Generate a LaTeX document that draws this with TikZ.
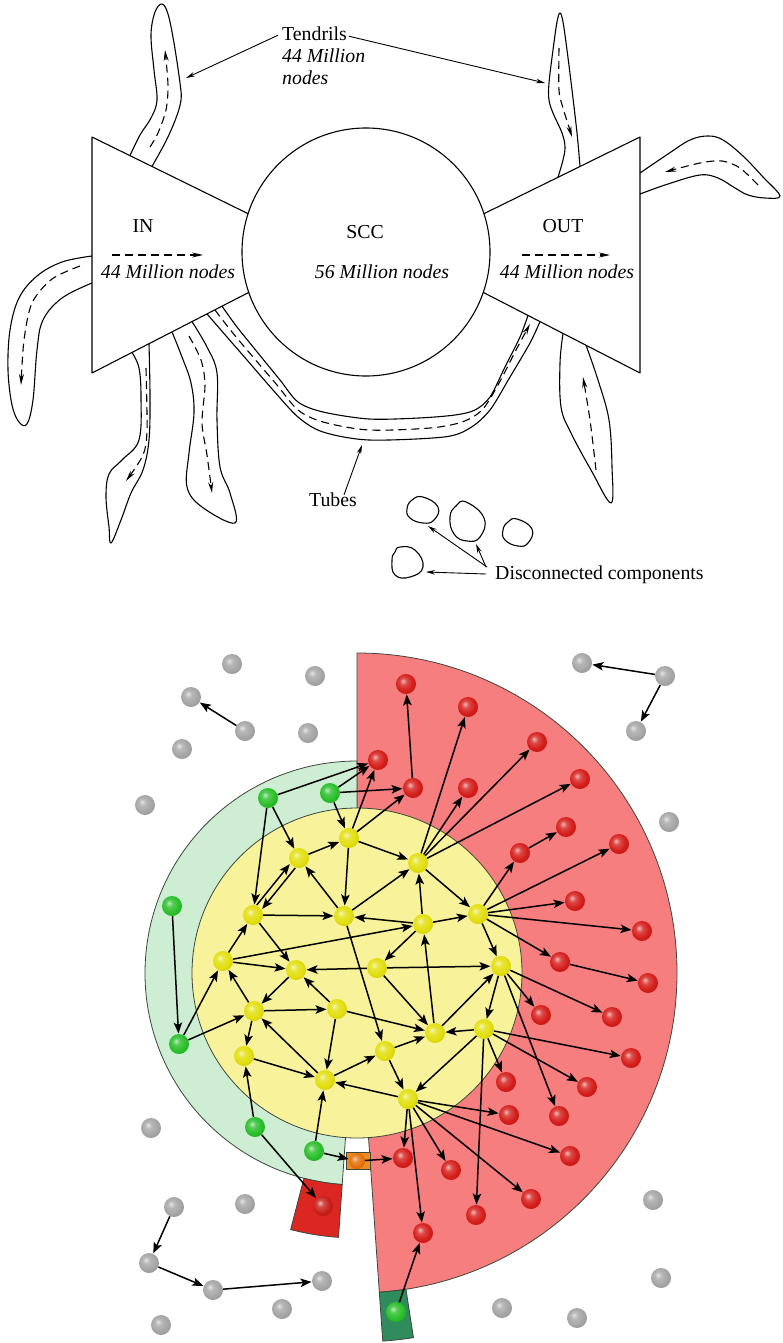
\documentclass[tikz,border=0pt]{standalone}
\usepackage{fontspec}
\setmainfont{Liberation Serif}
\usetikzlibrary{arrows.meta,calc}
\definecolor{redreg}{RGB}{246,126,126}
\definecolor{greenreg}{RGB}{205,238,210}
\definecolor{yellowreg}{RGB}{248,243,155}
\definecolor{regline}{RGB}{60,70,60}
\definecolor{redbox}{RGB}{220,38,34}
\definecolor{greenbox}{RGB}{48,140,92}
\definecolor{orangebox}{RGB}{238,140,30}
\definecolor{ballY}{RGB}{226,222,12}
\definecolor{ballR}{RGB}{212,28,24}
\definecolor{ballG}{RGB}{40,190,40}
\definecolor{ballK}{RGB}{165,165,165}
\definecolor{ballO}{RGB}{228,112,10}
\definecolor{ballRB}{RGB}{200,30,25}
\colorlet{mb}{ballY}
\pgfdeclareradialshading[mb]{mball}{\pgfqpoint{-8bp}{8bp}}{color(0bp)=(mb!30!white); color(9bp)=(mb!80!white); color(22bp)=(mb); color(38bp)=(mb!85!black); color(50bp)=(mb!65!black)}
\begin{document}
\begin{tikzpicture}[x=1pt,y=-1pt,
  outl/.style={line width=1.1pt,black,line join=round},
  dharr/.style={line width=1.1pt,dash pattern=on 8pt off 5pt,-{Stealth[length=11pt,width=5pt]}},
  tharr/.style={line width=0.9pt,-{Stealth[length=9pt,width=4.5pt]}},
  lbl/.style={font=\fontsize{19.8}{23}\selectfont,inner sep=0pt},
  ilbl/.style={font=\fontsize{19.8}{23}\selectfont\itshape,inner sep=0pt},
  ball/.style={circle,minimum size=20pt,inner sep=0pt},
  yb/.style={ball,/utils/exec={\colorlet{mb}{ballY}},shading=mball},
  rb/.style={ball,/utils/exec={\colorlet{mb}{ballR}},shading=mball},
  gb/.style={ball,/utils/exec={\colorlet{mb}{ballG}},shading=mball},
  kb/.style={ball,/utils/exec={\colorlet{mb}{ballK}},shading=mball},
  e/.style={line width=1.5pt,-{Stealth[length=11pt,width=8.5pt,inset=2.5pt]},shorten >=0.3pt},
  reg/.style={draw=regline,line width=0.8pt}]
\useasboundingbox (0,0) rectangle (783,1343);
% ================= TOP DIAGRAM =================
\draw[outl] (366,252) circle[radius=124];
\draw[outl] (248.1,213.7) -- (92,137) -- (92,373) -- (248.8,292.4);
\draw[outl] (483.9,213.7) -- (640,137) -- (640,373) -- (483.2,292.4);
% tendrils
\draw[outl] plot[smooth,tension=0.6] coordinates {(130,155.6) (140,135) (151,118) (157,100) (154,70) (151,35) (155,12) (162,4) (168,14) (174,43) (180,83) (181,100) (176,118) (166,141) (152,166.4)};
\draw[dharr] plot[smooth] coordinates {(150,147) (158,133) (166,110) (168,85) (165,50)};
\draw[outl] plot[smooth,tension=0.6] coordinates {(558,177.2) (563,160) (565,147) (562,133) (553,113) (549,100) (549,83) (553,50) (557,22) (560,13) (563,22) (567,50) (572,90) (577,133) (580,166.4)};
\draw[dharr] plot[smooth] coordinates {(559,48) (559,90) (563,108) (568,124) (572,137)};
\draw[outl] plot[smooth,tension=0.6] coordinates {(640,173) (668,154) (690,140) (708,136) (723,140) (743,156) (763,177) (780,196) (765,198) (748,195) (735,188) (718,178) (700,175) (668,184) (640,194)};
\draw[dharr] plot[smooth] coordinates {(758,185) (740,168) (722,161) (700,163) (665,172)};
\draw[outl] plot[smooth,tension=0.6] coordinates {(92,256) (62,262) (37,276) (19,298) (10,330) (8,370) (12,405) (19,422) (27,424) (33,400) (37,350) (43,320) (62,298) (92,283)};
\draw[dharr] plot[smooth] coordinates {(80,266) (52,279) (32,303) (24,340) (21,385)};
\draw[outl] plot[smooth,tension=0.6] coordinates {(132,352.4) (139,368) (141,397) (139,440) (122,460) (109,474) (106,497) (109,527) (111,543) (121,520) (131,493) (143,470) (149,440) (150,397) (149,343.7)};
\draw[dharr] plot[smooth] coordinates {(146,368) (147,430) (143,455) (126,481)};
\draw[outl] plot[smooth,tension=0.6] coordinates {(172,331.9) (182,357) (191,383) (194,413) (189,453) (187,487) (202,507) (235,523) (230,493) (220,467) (217,420) (217,373) (207,347) (192,321.6)};
\draw[dharr] plot[smooth] coordinates {(189,336) (201,360) (205,385) (202,423) (207,455) (212,493)};
\draw[outl] plot[smooth,tension=0.6] coordinates {(563,333.4) (560,363) (561,407) (571,433) (591,470) (611,503) (612,467) (609,420) (598,380) (586,345.2)};
\draw[dharr] plot[smooth] coordinates {(596,470) (590,420) (583,377)};
% tube
\draw[outl] plot[smooth,tension=0.5] coordinates {(222,306.2) (237,327) (258,353) (280,380) (298,402) (323,412) (369,419) (419,418) (455,415) (475,410) (490,397) (505,367) (520,337) (528,315.4)};
\draw[outl] plot[smooth,tension=0.5] coordinates {(207,313.9) (227,337) (247,360) (273,390) (298,417) (323,432) (369,440) (444,437) (470,428) (490,410) (510,377) (530,343) (540,321.6)};
\draw[dharr] plot[smooth,tension=0.5] coordinates {(215,310) (232,332) (253,357) (277,385) (298,410) (323,422) (369,430) (430,428) (462,422) (482,410) (498,385) (515,352) (530,324)};
% disconnected blobs
\draw[outl] plot[smooth cycle,tension=0.8] coordinates {(423,497) (438,507) (434,520) (423,523) (410,518) (407,509) (412,500)};
\draw[outl] plot[smooth cycle,tension=0.8] coordinates {(466,502) (484,518) (480,537) (467,541) (454,534) (450,517) (456,506)};
\draw[outl] plot[smooth cycle,tension=0.8] coordinates {(517,519) (532,529) (528,543) (518,546) (505,540) (503,530) (508,522)};
\draw[outl] plot[smooth cycle,tension=0.8] coordinates {(400,547) (415,550) (423,567) (410,577) (395,575) (392,560) (395,552)};
% labels
\node[lbl,anchor=base] (inl) at (143,233) {IN};
\node[ilbl,anchor=base] (inn) at (168,278) {44 Million nodes};
\node[lbl,anchor=base] (sccl) at (365,238) {SCC};
\node[ilbl,anchor=base] (sccn) at (382,278) {56 Million nodes};
\node[lbl,anchor=base] (outl) at (563,233) {OUT};
\node[ilbl,anchor=base] (outn) at (567,278) {44 Million nodes};
\draw[dharr] (112,255) -- (203,255);
\draw[dharr] (522,255) -- (610,255);
\node[lbl,anchor=base west] (tendr) at (282,41) {Tendrils};
\node[ilbl,anchor=base west] (tendr2) at (282,63) {44 Million};
\node[ilbl,anchor=base west] (tendr3) at (282,85) {nodes};
\coordinate (tipL) at (186,78);
\coordinate (tipR) at (545,83);
\draw[tharr] ([xshift=-4pt,yshift=-1pt]tendr.west) -- (tipL);
\draw[tharr] ([xshift=2pt,yshift=-2pt]tendr.east) -- (tipR);
\node[lbl] (tubes) at (333,500) {Tubes};
\coordinate (tubeTip) at (362,445);
\draw[tharr] ([xshift=11pt,yshift=-2pt]tubes.north) -- (tubeTip);
\node[lbl,anchor=west] (disc) at (495,575) {Disconnected components};
\coordinate (b1tip) at (428,526);
\coordinate (b2tip) at (476,544);
\coordinate (b4tip) at (426,572);
\draw[tharr] ([xshift=-8pt,yshift=8pt]disc.west) -- (b1tip);
\draw[tharr] ([xshift=-9pt,yshift=8pt]disc.west) -- (b2tip);
\draw[tharr] ([xshift=-9pt,yshift=1pt]disc.west) -- (b4tip);
% ================= BOTTOM DIAGRAM =================
\coordinate (C) at (357,973);
\filldraw[reg,fill=redreg] (C) -- ($(C)+(-90:320)$) arc[start angle=-90,end angle=86,radius=320] -- cycle;
\filldraw[reg,fill=greenreg] (C) -- ($(C)+(94:212)$) arc[start angle=94,end angle=270,radius=212] -- cycle;
\filldraw[reg,fill=yellowreg] (C) circle[radius=165];
\filldraw[reg,fill=redbox] ($(C)+(94:212)$) arc[start angle=94,end angle=104.5,radius=212] -- ($(C)+(104.5:265)$) arc[start angle=104.5,end angle=94,radius=265] -- cycle;
\filldraw[reg,fill=greenbox] ($(C)+(81.2:320)$) arc[start angle=81.2,end angle=86,radius=320] -- ($(C)+(86:369)$) arc[start angle=86,end angle=81.2,radius=369] -- cycle;
\filldraw[reg,fill=orangebox] (346,1152) rectangle (370,1169);
% gray nodes
\node[kb] (k1) at (232,664) {};
\node[kb] (k2) at (315,676) {};
\node[kb] (k3) at (191,697) {};
\node[kb] (k4) at (245,731) {};
\node[kb] (k5) at (308,733) {};
\node[kb] (k6) at (182,749) {};
\node[kb] (k7) at (145,805) {};
\node[kb] (k8) at (582,663) {};
\node[kb] (k9) at (665,676) {};
\node[kb] (k10) at (636,731) {};
\node[kb] (k11) at (669,822) {};
\node[kb] (k12) at (151,1128) {};
\node[kb] (k13) at (174,1207) {};
\node[kb] (k14) at (245,1204) {};
\node[kb] (k15) at (149,1263) {};
\node[kb] (k16) at (213,1290) {};
\node[kb] (k17) at (322,1281) {};
\node[kb] (k18) at (282,1309) {};
\node[kb] (k19) at (161,1325) {};
\node[kb] (k20) at (653,1200) {};
\node[kb] (k21) at (661,1278) {};
\node[kb] (k22) at (502,1308) {};
\node[kb] (k23) at (577,1318) {};
% yellow
\node[yb] (Y1) at (349,838) {};
\node[yb] (Y2) at (299,858) {};
\node[yb] (Y3) at (418,863) {};
\node[yb] (Y4) at (253,915) {};
\node[yb] (Y5) at (344,916) {};
\node[yb] (Y6) at (423,924) {};
\node[yb] (Y7) at (478,914) {};
\node[yb] (Y8) at (223,961) {};
\node[yb] (Y9) at (296,970) {};
\node[yb] (Y10) at (377,968) {};
\node[yb] (Y11) at (501,966) {};
\node[yb] (Y12) at (254,1011) {};
\node[yb] (Y13) at (337,1009) {};
\node[yb] (Y14) at (435,1033) {};
\node[yb] (Y15) at (484,1029) {};
\node[yb] (Y16) at (244,1056) {};
\node[yb] (Y17) at (385,1051) {};
\node[yb] (Y18) at (325,1080) {};
\node[yb] (Y19) at (408,1099) {};
% red
\node[rb] (R1) at (406,684) {};
\node[rb] (R2) at (378,760) {};
\node[rb] (R3) at (413,788) {};
\node[rb] (R4) at (468,707) {};
\node[rb] (R5) at (537,742) {};
\node[rb] (R6) at (580,779) {};
\node[rb] (R7) at (468,788) {};
\node[rb] (R8) at (566,827) {};
\node[rb] (R9) at (520,853) {};
\node[rb] (R10) at (619,844) {};
\node[rb] (R11) at (575,901) {};
\node[rb] (R12) at (642,931) {};
\node[rb] (R13) at (560,962) {};
\node[rb] (R14) at (648,983) {};
\node[rb] (R15) at (541,1015) {};
\node[rb] (R16) at (612,1017) {};
\node[rb] (R17) at (631,1058) {};
\node[rb] (R18) at (506,1082) {};
\node[rb] (R19) at (587,1087) {};
\node[rb] (R20) at (509,1115) {};
\node[rb] (R21) at (559,1116) {};
\node[rb] (R22) at (403,1158) {};
\node[rb] (R23) at (451,1170) {};
\node[rb] (R24) at (570,1156) {};
\node[rb] (R25) at (531,1199) {};
\node[rb] (R26) at (476,1215) {};
\node[rb] (R27) at (423,1233) {};
\node[ball,/utils/exec={\colorlet{mb}{ballRB}},shading=mball] (RB) at (323,1206) {};
% green & orange
\node[gb] (G1) at (268,798) {};
\node[gb] (G2) at (330,793) {};
\node[gb] (G3) at (172,906) {};
\node[gb] (G4) at (179,1044) {};
\node[gb] (G5) at (255,1127) {};
\node[gb] (G6) at (314,1151) {};
\node[gb] (G7) at (396,1312) {};
\node[ball,minimum size=16pt,/utils/exec={\colorlet{mb}{ballO}},shading=mball] (O) at (357,1161) {};
% gray edges
\draw[e] (k4) -- (k3);
\draw[e] (k9) -- (k8);
\draw[e] (k9) -- (k10);
\draw[e] (k13) -- (k15);
\draw[e] (k15) -- (k16);
\draw[e] (k16) -- (k17);
% green edges
\draw[e] (G1) -- (Y4);
\draw[e] (G1) -- (Y2);
\draw[e] (G1) -- (R2);
\draw[e] (G2) -- (Y1);
\draw[e] (G2) -- (R2);
\draw[e] (G2) -- (R3);
\draw[e] (G3) -- (G4);
\draw[e] (G4) -- (Y8);
\draw[e] (G4) -- (Y12);
\draw[e] (G5) -- (Y16);
\draw[e] (G5) -- (RB);
\draw[e] (G6) -- (Y18);
\draw[e] (G6) -- (O);
\draw[e] (O) -- (R22);
\draw[e] (G7) -- (R27);
% core edges
\draw[e] (Y1) -- (R2);
\draw[e] (Y1) -- (R3);
\draw[e] (R3) -- (R1);
\draw[e] (Y1) -- (Y3);
\draw[e] (Y1) -- (Y5);
\draw[e] (Y2) -- (Y1);
\draw[e,transform canvas={xshift=2.6pt,yshift=-2.1pt}] (Y2) -- (Y4);
\draw[e,transform canvas={xshift=-2.6pt,yshift=2.1pt}] (Y4) -- (Y2);
\draw[e] (Y5) -- (Y2);
\draw[e] (Y5) -- (Y3);
\draw[e] (Y5) -- (Y17);
\draw[e] (Y6) -- (Y3);
\draw[e] (Y6) -- (Y5);
\draw[e] (Y6) -- (Y7);
\draw[e] (Y6) -- (Y10);
\draw[e] (Y3) -- (Y7);
\draw[e] (Y4) -- (Y5);
\draw[e] (Y4) -- (Y9);
\draw[e] (Y8) -- (Y4);
\draw[e] (Y8) -- (Y9);
\draw[e] (Y8) -- (Y6);
\draw[e] (Y10) -- (Y9);
\draw[e] (Y10) -- (Y11);
\draw[e] (Y10) -- (Y14);
\draw[e] (Y9) -- (Y12);
\draw[e] (Y12) -- (Y8);
\draw[e] (Y12) -- (Y13);
\draw[e] (Y12) -- (Y16);
\draw[e] (Y13) -- (Y9);
\draw[e] (Y13) -- (Y18);
\draw[e] (Y13) -- (Y14);
\draw[e] (Y18) -- (Y12);
\draw[e] (Y18) -- (Y17);
\draw[e] (Y16) -- (Y18);
\draw[e] (Y14) -- (Y6);
\draw[e] (Y14) -- (Y11);
\draw[e] (Y15) -- (Y14);
\draw[e] (Y15) -- (Y19);
\draw[e] (Y11) -- (Y15);
\draw[e] (Y17) -- (Y14);
\draw[e] (Y17) -- (Y19);
\draw[e] (Y19) -- (Y18);
\draw[e] (Y7) -- (Y11);
% out edges
\draw[e] (Y3) -- (R4);
\draw[e] (Y3) -- (R5);
\draw[e] (Y3) -- (R6);
\draw[e] (Y3) -- (R7);
\draw[e] (Y7) -- (R9);
\draw[e] (Y7) -- (R10);
\draw[e] (Y7) -- (R11);
\draw[e] (Y7) -- (R12);
\draw[e] (Y7) -- (R13);
\draw[e] (R9) -- (R8);
\draw[e] (R13) -- (R14);
\draw[e] (Y11) -- (R15);
\draw[e] (Y11) -- (R16);
\draw[e] (Y11) -- (R21);
\draw[e] (Y15) -- (R17);
\draw[e] (Y15) -- (R19);
\draw[e] (Y15) -- (R18);
\draw[e] (Y15) -- (R26);
\draw[e] (Y19) -- (R20);
\draw[e] (Y19) -- (R22);
\draw[e] (Y19) -- (R23);
\draw[e] (Y19) -- (R24);
\draw[e] (Y19) -- (R25);
\draw[e] (Y19) -- (R27);
\end{tikzpicture}
\end{document}
